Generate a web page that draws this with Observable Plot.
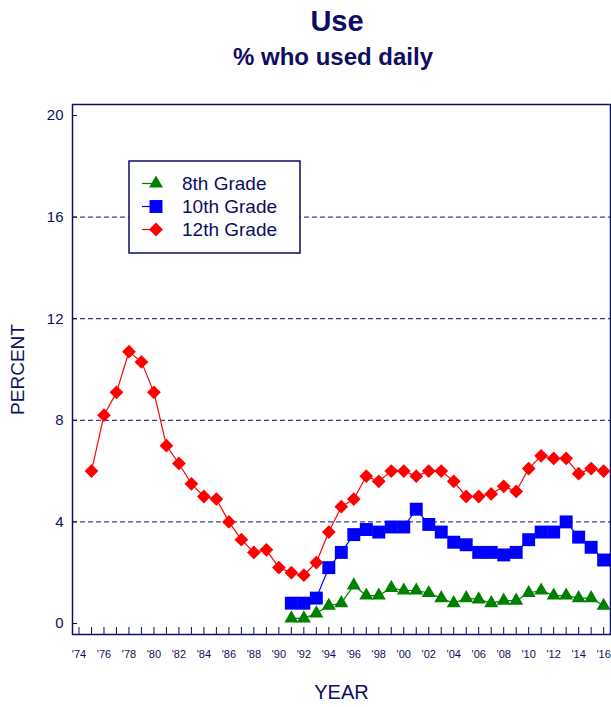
<!DOCTYPE html>
<html><head><meta charset="utf-8">
<script src="https://cdn.jsdelivr.net/npm/d3@7"></script>
<script src="https://cdn.jsdelivr.net/npm/@observablehq/plot@0.6"></script>
<style>
body{margin:0;background:#fff;font-family:"Liberation Sans",Arial,sans-serif;}
#head{position:relative;height:80px;width:611px;}
.t{position:absolute;transform:translateX(-50%);white-space:nowrap;font-weight:bold;color:#0d0d63;line-height:1;}
</style></head><body>
<div id="head"><div class="t" style="left:337px;top:7px;font-size:29px">Use</div><div class="t" style="left:333px;top:45px;font-size:24px">% who used daily</div></div>
<div id="chart"></div>
<script>
const years12 = d3.range(1975, 2017);
const grade12 = [6.0, 8.2, 9.1, 10.7, 10.3, 9.1, 7.0, 6.3, 5.5, 5.0, 4.9, 4.0,
  3.3, 2.8, 2.9, 2.2, 2.0, 1.9, 2.4, 3.6, 4.6, 4.9,
  5.8, 5.6, 6.0, 6.0, 5.8, 6.0, 6.0, 5.6, 5.0, 5.0,
  5.1, 5.4, 5.2, 6.1, 6.6, 6.5, 6.5, 5.9, 6.1, 6.0];
const years8_10 = d3.range(1991, 2017);
const grade10 = [0.8, 0.8, 1.0, 2.2, 2.8, 3.5, 3.7, 3.6, 3.8, 3.8, 4.5, 3.9, 3.6,
  3.2, 3.1, 2.8, 2.8, 2.7, 2.8, 3.3, 3.6, 3.6, 4.0, 3.4, 3.0, 2.5];
const grade8 = [0.2, 0.2, 0.4, 0.7, 0.8, 1.5, 1.1, 1.1, 1.4, 1.3, 1.3, 1.2, 1.0,
  0.8, 1.0, 0.95, 0.8, 0.9, 0.9, 1.2, 1.3, 1.1, 1.1, 1.0, 1.0, 0.7];
const tickYears = d3.range(1974, 2017);
const labelYears = d3.range(1974, 2017, 2);
const yTicks = [0, 4, 8, 12, 16, 20];
const gridValues = [4, 8, 12, 16];
const seriesNames = ["8th Grade", "10th Grade", "12th Grade"];
const seriesColors = ["#008000", "#0000ff", "#ff0000"];

const navy = "#0d0d63";
const rows = (years, vals) => years.map((year, i) => ({year, value: vals[i]}));
const d8 = rows(years8_10, grade8), d10 = rows(years8_10, grade10), d12 = rows(years12, grade12);
const R = {triangle: 5.2, square: 7.3, diamond2: 6.2};

const plot = Plot.plot({
  width: 611, height: 627,
  marginLeft: 72, marginRight: 1, marginTop: 24, marginBottom: 73,
  style: {fontFamily: '"Liberation Sans", Arial, sans-serif', color: navy, background: "white", overflow: "visible"},
  x: {domain: [1973.48, 2016.55], axis: null, label: null},
  y: {domain: [-0.433, 20.433], axis: null, label: null},
  marks: [
    Plot.ruleY(gridValues, {stroke: navy, strokeWidth: 1, strokeDasharray: "5,3"}),
    Plot.axisX(tickYears, {anchor: "bottom", tickSize: -7, tickFormat: () => "", stroke: navy, label: null}),
    Plot.axisX(labelYears, {anchor: "bottom", tickSize: 0, tickPadding: 16, tickFormat: d => "'" + String(d).slice(2), fontSize: 11, fill: navy, label: null}),
    Plot.axisY(yTicks, {anchor: "left", tickSize: -5, tickFormat: () => "", stroke: navy, label: null}),
    Plot.axisY(yTicks, {anchor: "left", tickSize: 0, tickPadding: 9, fontSize: 15, fill: navy, label: null}),
    Plot.frame({stroke: navy, strokeWidth: 1.5}),
    Plot.line(d8, {x: "year", y: "value", stroke: seriesColors[0], strokeWidth: 1.2}),
    Plot.dot(d8, {x: "year", y: "value", symbol: "triangle", r: R.triangle, fill: seriesColors[0], stroke: "none"}),
    Plot.line(d10, {x: "year", y: "value", stroke: seriesColors[1], strokeWidth: 1.2}),
    Plot.dot(d10, {x: "year", y: "value", symbol: "square", r: R.square, fill: seriesColors[1], stroke: "none"}),
    Plot.line(d12, {x: "year", y: "value", stroke: seriesColors[2], strokeWidth: 1.2}),
    Plot.dot(d12, {x: "year", y: "value", symbol: "diamond2", r: R.diamond2, fill: seriesColors[2], stroke: "none"}),
    Plot.text(["PERCENT"], {frameAnchor: "left", dx: -55, rotate: -90, textAnchor: "middle", lineAnchor: "middle", fontSize: 19, fill: navy}),
    Plot.text(["YEAR"], {frameAnchor: "bottom", dy: 58, textAnchor: "middle", lineAnchor: "middle", fontSize: 20, fill: navy})
  ]
});
document.getElementById("chart").appendChild(plot);

// legend
const svg = d3.select(plot);
const g = svg.append("g").attr("text-anchor", "start");
g.append("rect").attr("x", 129).attr("y", 81).attr("width", 171).attr("height", 92)
  .attr("fill", "white").attr("stroke", navy).attr("stroke-width", 1.5);
const syms = [d3.symbolTriangle, d3.symbolSquare, d3.symbolDiamond2];
const rs = [R.triangle, R.square, R.diamond2];
const rowY = [103.5, 126.5, 149.5];
seriesNames.forEach((name, i) => {
  const y = rowY[i];
  g.append("line").attr("x1", 142).attr("x2", 153).attr("y1", y).attr("y2", y)
    .attr("stroke", seriesColors[i]).attr("stroke-width", 1.2);
  g.append("path").attr("transform", `translate(156,${y})`)
    .attr("d", d3.symbol(syms[i], Math.PI * rs[i] * rs[i])()).attr("fill", seriesColors[i]);
  g.append("text").attr("x", 182).attr("y", y).attr("dy", "0.35em")
    .attr("text-anchor", "start").attr("font-size", 19).attr("fill", navy).text(name);
});
</script>
</body></html>
